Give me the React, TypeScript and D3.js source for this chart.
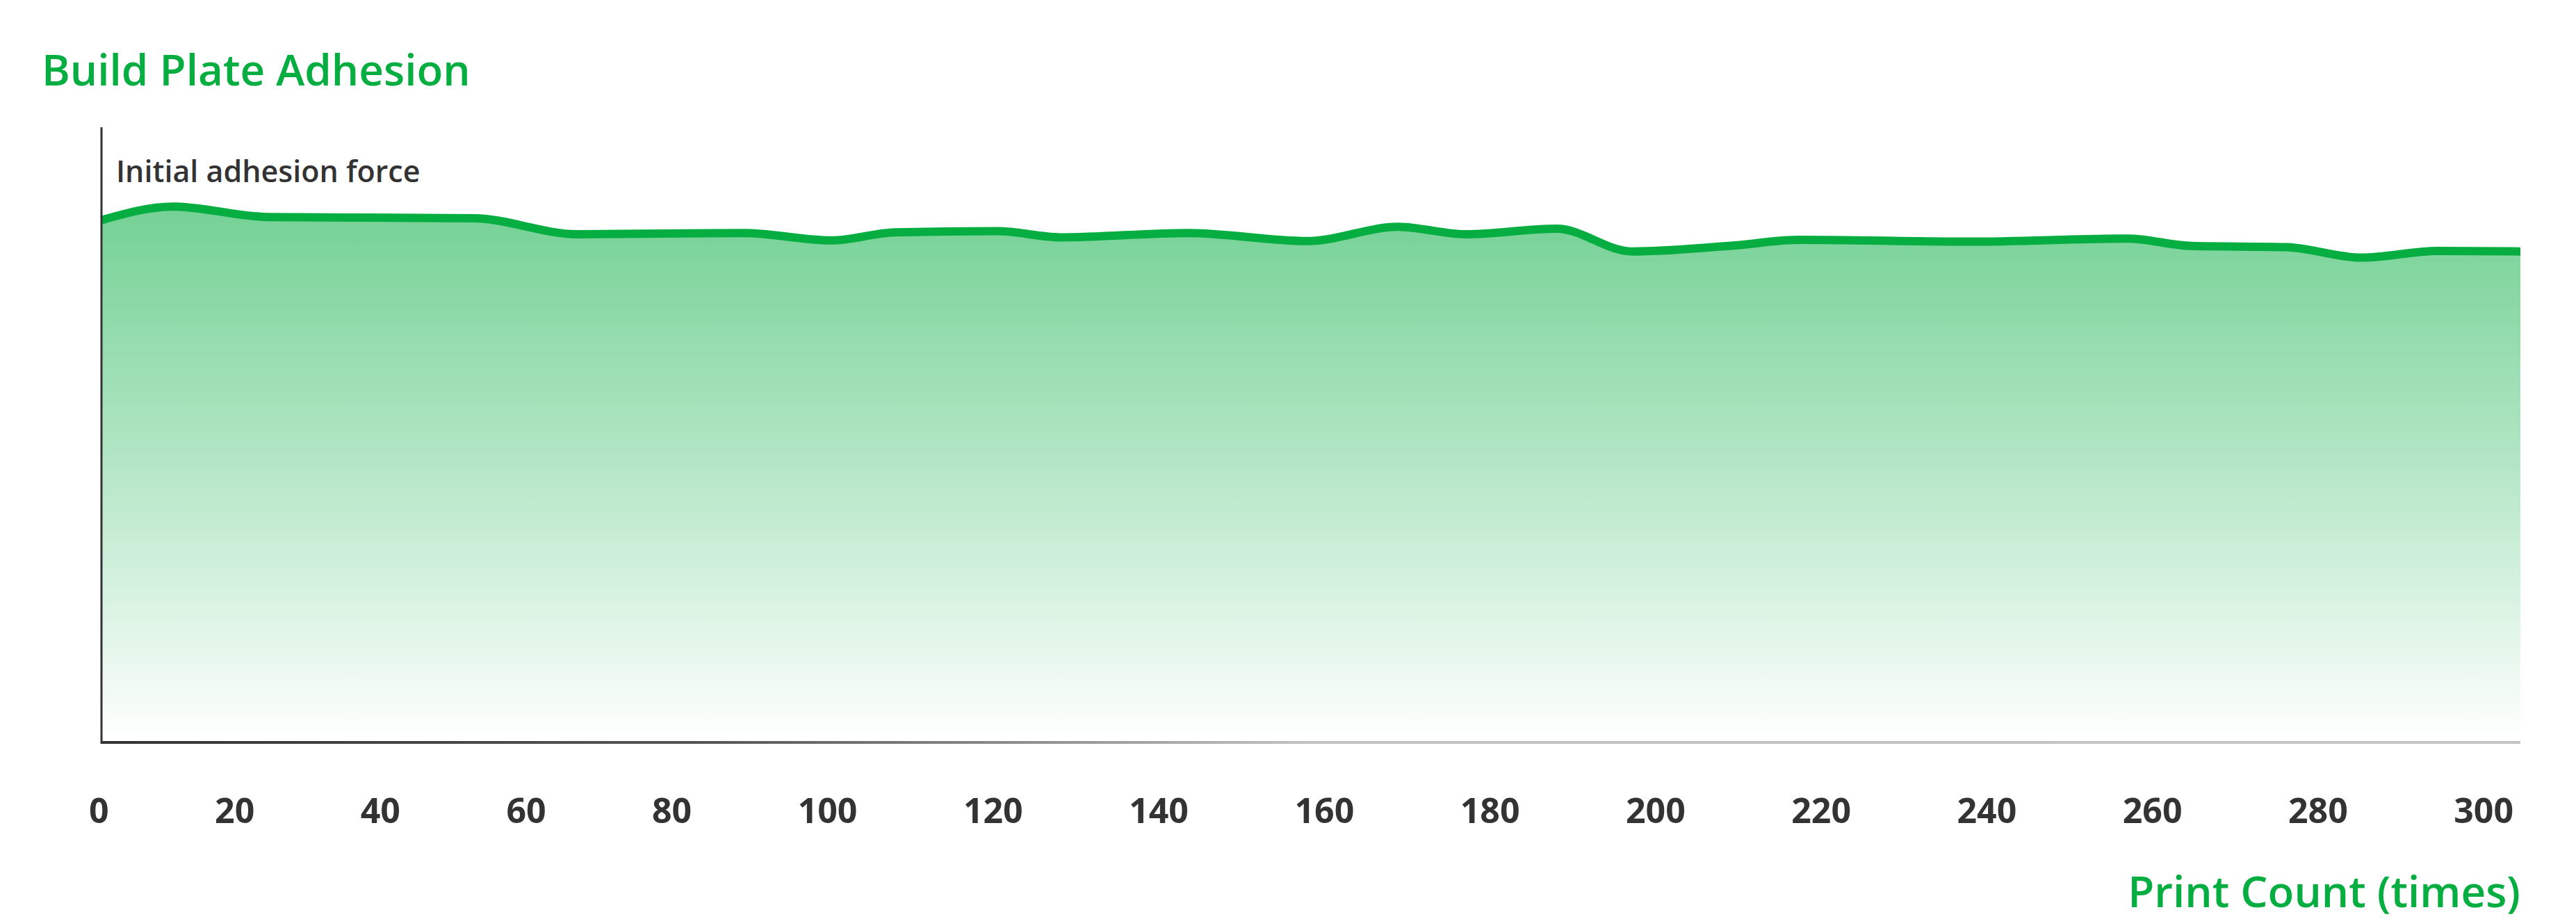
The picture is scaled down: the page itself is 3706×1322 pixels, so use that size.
import * as d3 from 'd3';
import React, { useEffect, useRef } from 'react';

const printCounts = [0, 9, 21, 47, 60, 81, 92, 100, 113, 121, 137, 152, 163.5, 172, 183.5, 193, 206, 214, 235.5, 255.5, 263.5, 275.5, 285, 294.5, 305];
const adhesion = [84.9, 87.1, 85.4, 85.2, 82.6, 82.8, 81.6, 82.9, 83.1, 82.1, 82.8, 81.5, 83.8, 82.6, 83.5, 79.8, 80.8, 81.7, 81.4, 81.9, 80.7, 80.5, 78.8, 79.9, 79.8];
const tickLabels = ['0', '20', '40', '60', '80', '100', '120', '140', '160', '180', '200', '220', '240', '260', '280', '300'];

const W = 3706, H = 1322;
const GREEN = '#06ad41';
const FONT = '"Open Sans", "Noto Sans", sans-serif';

const App = () => {
    const chartArea = useRef<SVGSVGElement | null>(null);
    const margin = { top: 183, right: 80, bottom: 254, left: 146 };
    const width = W - margin.left - margin.right,
        height = H - margin.top - margin.bottom;

    useEffect(() => {
        document.body.style.margin = '0';
        const svg = d3.select(chartArea.current);
        svg.selectAll('*').remove();

        const data = printCounts.map((c, i) => ({ c, v: adhesion[i] }));

        const x = d3.scaleLinear().domain([0, 305]).range([0, width]);
        const y = d3.scaleLinear().domain([0, 100]).range([height, 0]);

        const defs = svg.append('defs');
        const fillGrad = defs.append('linearGradient')
            .attr('id', 'areaFill')
            .attr('gradientUnits', 'userSpaceOnUse')
            .attr('x1', 0).attr('x2', 0)
            .attr('y1', y(d3.max(adhesion) as number)).attr('y2', y(0));
        fillGrad.append('stop').attr('offset', '0%').attr('stop-color', GREEN).attr('stop-opacity', 0.56);
        fillGrad.append('stop').attr('offset', '45%').attr('stop-color', GREEN).attr('stop-opacity', 0.32);
        fillGrad.append('stop').attr('offset', '100%').attr('stop-color', GREEN).attr('stop-opacity', 0.0);

        const axisGrad = defs.append('linearGradient')
            .attr('id', 'axisStroke')
            .attr('gradientUnits', 'userSpaceOnUse')
            .attr('x1', 0).attr('x2', width).attr('y1', 0).attr('y2', 0);
        axisGrad.append('stop').attr('offset', '0%').attr('stop-color', '#333');
        axisGrad.append('stop').attr('offset', '25%').attr('stop-color', '#555');
        axisGrad.append('stop').attr('offset', '50%').attr('stop-color', '#c2c2c2');
        axisGrad.append('stop').attr('offset', '100%').attr('stop-color', '#c4c4c4');

        const g = svg.append('g')
            .attr('transform', 'translate(' + margin.left + ',' + margin.top + ')');

        const area = d3.area<{ c: number, v: number }>()
            .x(d => x(d.c))
            .y0(y(0))
            .y1(d => y(d.v))
            .curve(d3.curveMonotoneX);
        const line = d3.line<{ c: number, v: number }>()
            .x(d => x(d.c))
            .y(d => y(d.v))
            .curve(d3.curveMonotoneX);

        g.append('path').datum(data).attr('d', area).attr('fill', 'url(#areaFill)');
        g.append('path').datum(data).attr('d', line)
            .attr('fill', 'none')
            .attr('stroke', GREEN)
            .attr('stroke-width', 12)
            .attr('stroke-linejoin', 'round');

        // axes
        g.append('line')
            .attr('x1', 0).attr('x2', width)
            .attr('y1', y(0)).attr('y2', y(0))
            .attr('stroke', 'url(#axisStroke)')
            .attr('stroke-width', 4);
        g.append('line')
            .attr('x1', 0).attr('x2', 0)
            .attr('y1', 0).attr('y2', y(0) + 2)
            .attr('stroke', '#333')
            .attr('stroke-width', 3);

        g.append('text')
            .attr('x', 21).attr('y', 79)
            .attr('font-family', FONT)
            .attr('font-size', 43)
            .attr('font-weight', 600)
            .attr('fill', '#333')
            .text('Initial adhesion force');

        // tick labels are spread edge to edge with equal gaps between them
        const labelLeft = 128, labelRight = 3616;
        const ticks = svg.append('g')
            .selectAll('text')
            .data(tickLabels)
            .join('text')
            .attr('y', 1184)
            .attr('font-family', FONT)
            .attr('font-size', 50)
            .attr('font-weight', 700)
            .attr('fill', '#333')
            .text(d => d);
        const widths = ticks.nodes().map(n => (n as SVGTextElement).getComputedTextLength());
        const gap = (labelRight - labelLeft - d3.sum(widths)) / (tickLabels.length - 1);
        let cursor = labelLeft;
        ticks.attr('x', (d, i) => {
            const pos = cursor;
            cursor += widths[i] + gap;
            return pos;
        });

        svg.append('text')
            .attr('x', 60).attr('y', 123)
            .attr('font-family', FONT)
            .attr('font-size', 62)
            .attr('font-weight', 600)
            .attr('fill', GREEN)
            .text('Build Plate Adhesion');

        svg.append('text')
            .attr('x', 3626).attr('y', 1305)
            .attr('text-anchor', 'end')
            .attr('font-family', FONT)
            .attr('font-size', 62)
            .attr('font-weight', 600)
            .attr('fill', GREEN)
            .text('Print Count (times)');
    }, []);

    return <svg ref={chartArea} width={W} height={H} style={{ display: 'block', background: '#fff' }} />;
}
export default App;
